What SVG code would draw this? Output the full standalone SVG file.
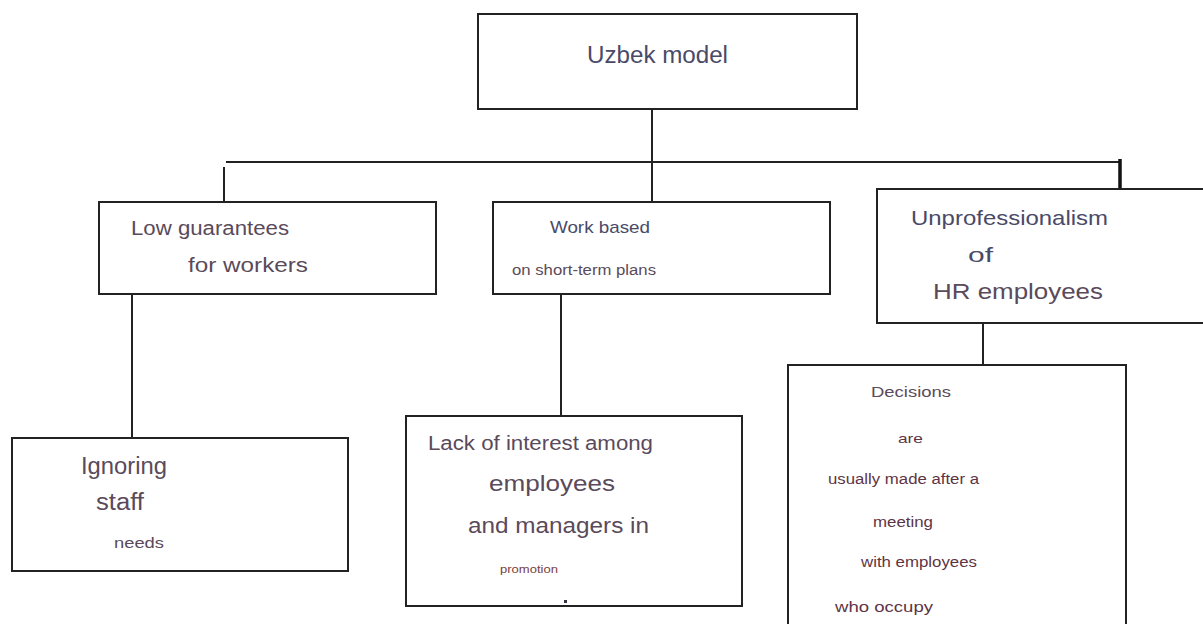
<svg xmlns="http://www.w3.org/2000/svg" width="1203" height="624" viewBox="0 0 1203 624">
<style>
.box{fill:#fff;stroke:#222;stroke-width:2}
.ln{stroke:#222;stroke-width:2;fill:none}
.thick{stroke:#111;stroke-width:3.5;fill:none}
text{font-family:"Liberation Sans",Arial,sans-serif}
.b{fill:#4a4a68}
.p{fill:#5a4a5a}
.m{fill:#5e3444}
.r{fill:#7a4040}
</style>
<rect width="1203" height="624" fill="#fff"/>
<g id="connectors">
<line class="ln" x1="652" y1="109" x2="652" y2="202"/>
<line class="ln" x1="226" y1="162" x2="1120" y2="162"/>
<line class="ln" x1="224" y1="167" x2="224" y2="202"/>
<line class="thick" x1="1120" y1="159" x2="1120" y2="191"/>
<line class="ln" x1="132" y1="294" x2="132" y2="438"/>
<line class="ln" x1="561" y1="294" x2="561" y2="416"/>
<line class="ln" x1="983" y1="323" x2="983" y2="365"/>
</g>
<g id="uzbek">
<rect class="box" x="478" y="14" width="379" height="95"/>
<text class="b" x="587" y="63" font-size="23" textLength="141" lengthAdjust="spacingAndGlyphs">Uzbek model</text>
</g>
<g id="low">
<rect class="box" x="99" y="202" width="337" height="92"/>
<text class="p" x="131" y="235" font-size="20" textLength="158" lengthAdjust="spacingAndGlyphs">Low guarantees</text>
<text class="p" x="188" y="272" font-size="21" textLength="120" lengthAdjust="spacingAndGlyphs">for workers</text>
</g>
<g id="work">
<rect class="box" x="493" y="202" width="337" height="92"/>
<text class="b" x="550" y="233" font-size="17" textLength="100" lengthAdjust="spacingAndGlyphs">Work based</text>
<text class="p" x="512" y="275" font-size="14" textLength="144" lengthAdjust="spacingAndGlyphs">on short-term plans</text>
</g>
<g id="unprof">
<rect class="box" x="877" y="189" width="330" height="134"/>
<text class="b" x="911" y="225" font-size="21" textLength="197" lengthAdjust="spacingAndGlyphs">Unprofessionalism</text>
<text class="b" x="968" y="262" font-size="21" textLength="25" lengthAdjust="spacingAndGlyphs">of</text>
<text class="p" x="933" y="299" font-size="22" textLength="170" lengthAdjust="spacingAndGlyphs">HR employees</text>
</g>
<g id="ignoring">
<rect class="box" x="12" y="438" width="336" height="133"/>
<text class="p" x="81" y="474" font-size="23" textLength="86" lengthAdjust="spacingAndGlyphs">Ignoring</text>
<text class="p" x="96" y="510" font-size="23" textLength="48" lengthAdjust="spacingAndGlyphs">staff</text>
<text class="p" x="114" y="548" font-size="15" textLength="50" lengthAdjust="spacingAndGlyphs">needs</text>
</g>
<g id="lack">
<rect class="box" x="406" y="416" width="336" height="190"/>
<text class="p" x="428" y="450" font-size="20" textLength="225" lengthAdjust="spacingAndGlyphs">Lack of interest among</text>
<text class="p" x="489" y="491" font-size="22" textLength="126" lengthAdjust="spacingAndGlyphs">employees</text>
<text class="p" x="468" y="533" font-size="22" textLength="181" lengthAdjust="spacingAndGlyphs">and managers in</text>
<text class="r" x="500" y="573" font-size="11" textLength="58" lengthAdjust="spacingAndGlyphs">promotion</text>
<rect x="564" y="600" width="3" height="3" fill="#334"/>
</g>
<g id="decisions">
<rect class="box" x="788" y="365" width="338" height="270"/>
<text class="p" x="871" y="397" font-size="15" textLength="80" lengthAdjust="spacingAndGlyphs">Decisions</text>
<text class="m" x="898" y="443" font-size="13" textLength="25" lengthAdjust="spacingAndGlyphs">are</text>
<text class="m" x="828" y="484" font-size="14" textLength="151" lengthAdjust="spacingAndGlyphs">usually made after a</text>
<text class="m" x="873" y="527" font-size="14" textLength="60" lengthAdjust="spacingAndGlyphs">meeting</text>
<text class="m" x="861" y="567" font-size="14" textLength="116" lengthAdjust="spacingAndGlyphs">with employees</text>
<text class="m" x="835" y="612" font-size="15" textLength="98" lengthAdjust="spacingAndGlyphs">who occupy</text>
</g>
</svg>
